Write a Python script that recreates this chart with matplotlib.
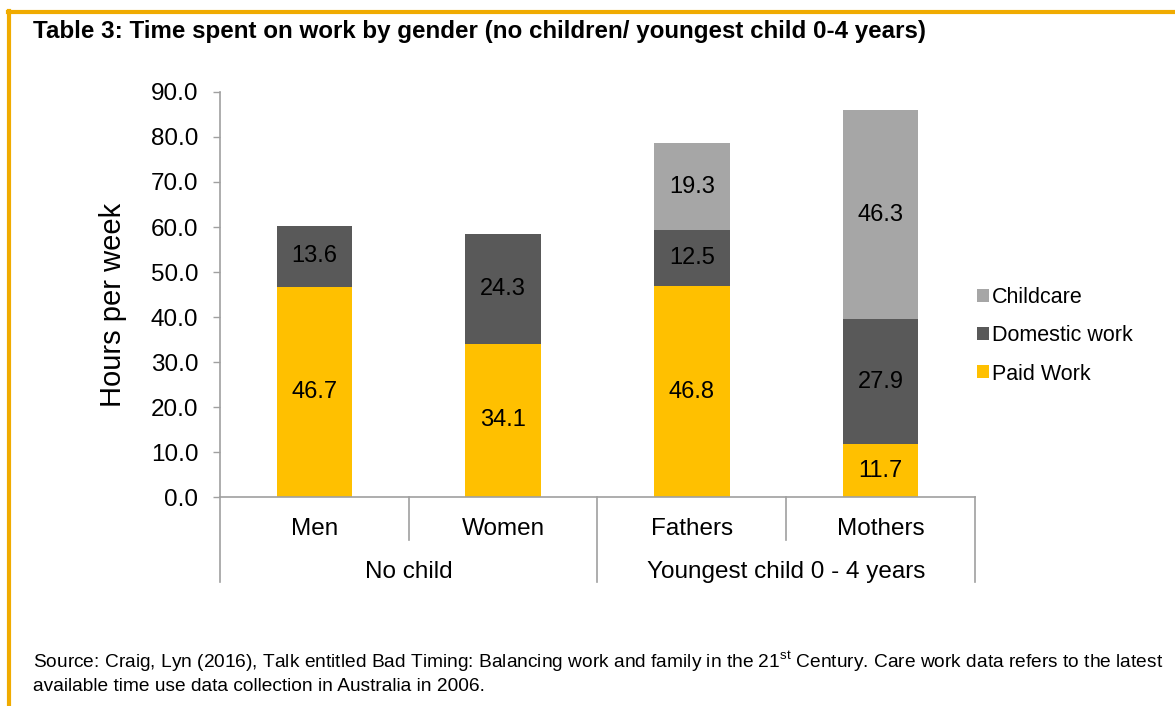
import matplotlib
matplotlib.use("Agg")
import matplotlib.pyplot as plt
from matplotlib.lines import Line2D
import matplotlib.transforms as mtransforms
import numpy as np

plt.rcParams["font.family"] = ["Liberation Sans", "DejaVu Sans"]

groups = ["Men", "Women", "Fathers", "Mothers"]
super_groups = ["No child", "Youngest child 0 - 4 years"]
super_spans = [(0, 1), (2, 3)]
paid_work = [46.7, 34.1, 46.8, 11.7]
domestic_work = [13.6, 24.3, 12.5, 27.9]
childcare = [0.0, 0.0, 19.3, 46.3]

series = [
    ("Paid Work", paid_work, "#FFC000"),
    ("Domestic work", domestic_work, "#595959"),
    ("Childcare", childcare, "#A6A6A6"),
]

fig = plt.figure(figsize=(11.75, 7.06), dpi=100)
ax = fig.add_axes([0.1872, 0.2960, 0.6426, 0.5737])

x = np.arange(len(groups))
bottom = np.zeros(len(groups))
handles = {}
for name, vals, col in series:
    vals = np.array(vals)
    bars = ax.bar(x, vals, width=0.40, bottom=bottom, color=col,
                  edgecolor="none", label=name)
    handles[name] = bars
    for xi, b, v in zip(x, bottom, vals):
        if v > 0:
            ax.text(xi, b + v / 2, f"{v:.1f}", ha="center", va="center",
                    fontsize=17, color="black")
    bottom = bottom + vals

ax.set_xlim(-0.5, len(groups) - 0.5)
ax.set_ylim(0, 90)
ax.set_yticks(np.arange(0, 91, 10))
ax.set_yticklabels([f"{v:.1f}" for v in np.arange(0, 91, 10)], fontsize=17.5)
ax.tick_params(axis="y", length=5, width=1, color="#A0A0A0", pad=10.5)
ax.set_xticks([])
ax.set_ylabel("Hours per week", fontsize=21)
ax.yaxis.set_label_coords(-0.123, 0.474)

for side in ["top", "right"]:
    ax.spines[side].set_visible(False)
for side in ["left", "bottom"]:
    ax.spines[side].set_color("#A0A0A0")
    ax.spines[side].set_linewidth(1.2)

# two-level category axis
trans = mtransforms.blended_transform_factory(ax.transData, ax.transAxes)
for b in np.arange(-0.5, len(groups), 1.0):
    major = b in (-0.5, 1.5, 3.5)
    y_end = -0.21 if major else -0.105
    ax.add_line(Line2D([b, b], [0, y_end], transform=trans, color="#A0A0A0",
                       lw=1.2, clip_on=False))
for xi, g in zip(x, groups):
    ax.text(xi, -0.079, g, transform=trans, ha="center", va="center",
            fontsize=17.5)
for (a, b), s in zip(super_spans, super_groups):
    ax.text((a + b) / 2, -0.184, s, transform=trans, ha="center",
            va="center", fontsize=17.5)

# legend
leg_items = ["Childcare", "Domestic work", "Paid Work"]
leg = ax.legend([handles[n] for n in leg_items], leg_items,
                loc="center left", bbox_to_anchor=(0.977, 0.398),
                frameon=False, fontsize=15.5, handlelength=0.55,
                handleheight=0.55, handletextpad=0.15, labelspacing=0.8)

fig.text(0.028, 0.956, "Table 3: Time spent on work by gender (no children/ "
         "youngest child 0-4 years)", fontsize=17.4, fontweight="bold",
         ha="left", va="center")

fig.text(0.028, 0.063, "Source: Craig, Lyn (2016), Talk entitled Bad Timing: "
         "Balancing work and family in the 21$^{\\mathregular{st}}$ Century. "
         "Care work data refers to the latest", fontsize=13.8, ha="left",
         va="center")
fig.text(0.028, 0.028, "available time use data collection in Australia in 2006.",
         fontsize=13.8, ha="left", va="center")

# orange frame
border = "#F0AB00"
fig.add_artist(Line2D([0.0068, 1.0], [0.9825, 0.9825], transform=fig.transFigure,
                      color=border, lw=3))
fig.add_artist(Line2D([0.0075, 0.0075], [0.0, 0.9840], transform=fig.transFigure,
                      color=border, lw=3))

fig.savefig("out.png", dpi=100)
